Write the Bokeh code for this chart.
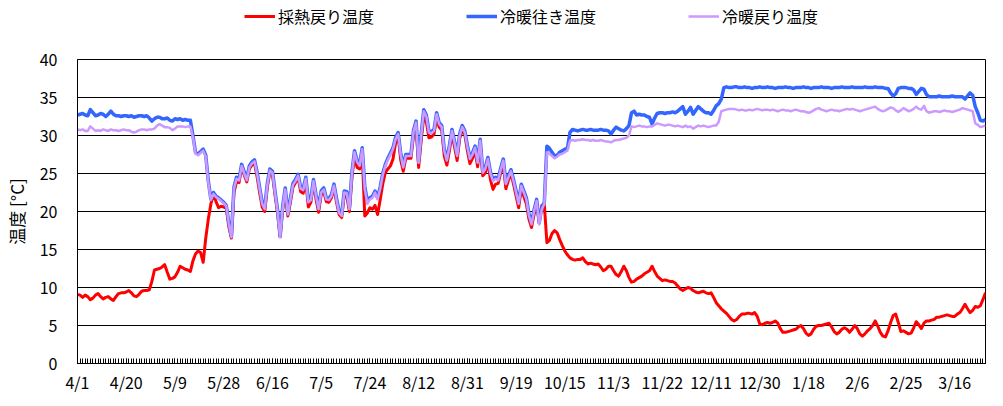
import pandas as pd
from bokeh.plotting import figure
from bokeh.layouts import column
from bokeh.models import FixedTicker, Range1d, Legend, LegendItem, ColumnDataSource
from bokeh.embed import file_html
from bokeh.resources import INLINE

# categories: daily dates 4/1 .. 3/28 with the 10/1-10/7 gap
all_days = pd.date_range("2018-04-01", "2019-03-28")
gap_start, gap_end = pd.Timestamp("2018-10-01"), pd.Timestamp("2018-10-07")
dates = [d for d in all_days if not (gap_start <= d <= gap_end)]
categories = [f"{d.month}/{d.day}" for d in dates]

series_names = ["採熱戻り温度", "冷暖往き温度", "冷暖戻り温度"]

red = [
    9.1, 9.0, 8.7, 9.0, 8.8, 8.4, 8.6, 9.0, 9.2, 8.8,
    8.5, 8.7, 8.8, 8.5, 8.3, 8.8, 9.2, 9.3, 9.3, 9.4,
    9.6, 9.3, 8.9, 8.8, 9.1, 9.5, 9.6, 9.6, 9.7, 10.8,
    12.3, 12.4, 12.5, 12.7, 13.0, 12.0, 11.1, 11.2, 11.4, 12.0,
    12.8, 12.6, 12.4, 12.3, 12.1, 13.5, 14.4, 14.8, 14.6, 13.3,
    16.5, 19.0, 21.0, 22.3, 21.3, 20.5, 20.7, 20.6, 20.4, 18.0,
    16.5, 22.5, 23.9, 23.8, 25.8, 24.8, 23.9, 25.6, 26.1, 26.4,
    24.6, 22.5, 20.6, 20.0, 23.2, 25.2, 24.9, 22.2, 19.8, 16.7,
    20.3, 22.6, 19.4, 21.2, 23.2, 23.8, 24.5, 22.6, 22.4, 24.0,
    20.6, 21.2, 23.8, 21.6, 19.9, 22.2, 22.6, 21.3, 21.2, 21.8,
    23.1, 21.2, 19.6, 19.2, 22.2, 22.0, 20.0, 24.5, 27.3, 25.8,
    25.6, 27.5, 19.4, 19.8, 20.5, 20.3, 20.8, 19.6, 21.5, 23.6,
    25.1, 25.6, 26.0, 26.9, 29.0, 30.0, 26.8, 25.3, 27.0, 27.0,
    27.0, 30.0, 31.2, 25.8, 29.4, 32.5, 31.8, 29.7, 29.8, 30.2,
    32.3, 31.1, 30.7, 27.3, 26.1, 28.0, 30.2, 28.5, 26.7, 29.6,
    30.8, 30.1, 28.0, 26.3, 27.0, 28.0, 25.9, 29.0, 24.7, 25.1,
    26.5, 24.2, 22.9, 23.6, 23.7, 25.1, 26.3, 23.0, 24.1, 25.0,
    23.6, 22.0, 20.5, 23.0, 22.0, 21.0, 19.0, 17.9, 19.6, 21.0,
    18.6, 20.8, 20.9,
    15.9, 16.2, 17.1, 17.5, 17.2, 16.3, 15.5, 14.8, 14.3, 13.9,
    13.7, 13.6, 13.7, 13.7, 13.9, 13.4, 13.1, 13.2, 13.1, 13.0,
    13.1, 12.7, 12.2, 12.4, 12.8, 12.8, 12.2, 11.7, 11.5, 12.1,
    12.8, 12.2, 11.3, 10.7, 10.8, 11.1, 11.3, 11.5, 11.8, 12.0,
    12.2, 12.8, 12.1, 11.5, 11.2, 10.9, 11.0, 10.9, 10.8, 10.8,
    10.6, 10.2, 9.8, 9.6, 9.8, 10.0, 9.9, 9.6, 9.4, 9.3,
    9.4, 9.5, 9.3, 9.2, 9.3, 8.7, 8.0, 7.6, 7.2, 6.9,
    6.6, 6.2, 5.8, 5.6, 5.8, 6.2, 6.5, 6.5, 6.6, 6.6,
    6.5, 6.7, 6.2, 5.2, 5.1, 5.3, 5.4, 5.3, 5.4, 5.6,
    5.3, 4.6, 4.1, 4.1, 4.2, 4.3, 4.4, 4.5, 4.8, 5.0,
    4.6, 4.0, 3.7, 3.9, 4.5, 4.9, 5.0, 5.0, 5.1, 5.2,
    5.3, 4.8, 4.2, 3.9, 4.1, 4.5, 4.7, 4.5, 4.1, 4.5,
    5.0, 4.6, 3.9, 3.6, 3.9, 4.3, 4.6, 5.0, 5.6, 4.9,
    4.1, 3.6, 3.5, 4.3, 5.4, 6.3, 6.5, 5.4, 4.2, 4.3,
    4.1, 3.9, 4.0, 4.7, 5.5, 5.1, 4.6, 5.3, 5.6, 5.6,
    5.7, 5.8, 6.1, 6.1, 6.2, 6.3, 6.4, 6.3, 6.2, 6.2,
    6.5, 6.7, 7.2, 7.8, 7.2, 6.7, 7.0, 7.5, 7.4, 7.6,
    8.4, 9.3,
]

blue = [
    32.7, 32.8, 32.9, 32.7, 32.6, 33.4, 33.0, 32.6, 32.7, 32.9,
    32.8, 32.5, 32.8, 33.2, 32.8, 32.6, 32.6, 32.5, 32.6, 32.6,
    32.5, 32.6, 32.4, 32.5, 32.6, 32.6, 32.5, 32.6, 32.3, 31.9,
    32.2, 32.4, 32.4, 32.2, 32.2, 32.3, 32.0, 31.9, 32.2, 32.1,
    32.2, 32.0, 32.1, 32.0, 32.0, 30.0, 27.8, 27.6, 27.9, 28.2,
    27.4, 24.0, 21.6, 22.5, 22.0, 21.8, 21.5, 21.2, 20.8, 18.5,
    16.7, 23.2, 24.5, 24.3, 26.2, 25.2, 24.3, 26.0, 26.5, 26.8,
    25.2, 23.2, 21.2, 20.5, 23.7, 25.6, 25.3, 22.7, 20.2, 16.7,
    20.7, 23.1, 19.8, 21.7, 23.7, 24.2, 24.9, 23.2, 23.0, 24.5,
    21.4, 21.7, 24.2, 22.2, 20.5, 22.7, 23.1, 21.8, 21.7, 22.2,
    23.6, 21.7, 20.0, 19.6, 22.7, 22.6, 20.5, 25.2, 28.0, 26.7,
    26.2, 28.4, 23.3, 21.3, 21.8, 22.0, 22.7, 21.8, 23.2, 25.0,
    26.2, 27.0, 27.7, 28.4, 29.7, 30.4, 27.7, 26.0, 27.5, 27.5,
    27.5, 30.7, 31.9, 26.6, 30.2, 33.4, 32.7, 30.6, 30.5, 30.8,
    33.0, 31.7, 31.3, 28.2, 26.9, 28.7, 30.8, 29.2, 27.5, 30.2,
    31.3, 30.6, 28.7, 27.1, 27.7, 28.6, 26.6, 29.5, 25.3, 25.8,
    27.1, 25.2, 24.2, 24.5, 24.3, 25.7, 26.9, 23.8, 24.7, 25.5,
    24.2, 22.7, 21.2, 23.6, 22.7, 21.8, 19.7, 18.5, 20.2, 21.6,
    18.5, 20.5, 21.2,
    28.6, 28.3, 27.8, 27.3, 27.4, 27.8, 28.0, 28.2, 28.3, 30.4,
    30.8, 30.7, 30.6, 30.7, 30.8, 30.7, 30.7, 30.8, 30.7, 30.7,
    30.7, 30.8, 30.7, 30.7, 30.6, 30.2, 30.7, 31.1, 30.9, 30.7,
    30.6, 30.9, 31.3, 33.0, 33.2, 32.7, 32.8, 32.7, 32.7, 32.5,
    32.4, 31.5, 32.3, 32.9, 33.0, 33.0, 32.9, 33.0, 33.0, 33.1,
    33.0, 33.2, 33.5, 33.8, 32.8, 33.2, 33.7, 32.8, 33.3, 33.8,
    33.5, 33.2, 33.0, 33.0, 32.8, 33.3, 33.9, 34.2, 34.8, 36.3,
    36.4, 36.3, 36.3, 36.4, 36.4, 36.3, 36.3, 36.4, 36.3, 36.3,
    36.2, 36.3, 36.3, 36.4, 36.3, 36.3, 36.4, 36.3, 36.3, 36.2,
    36.3, 36.3, 36.3, 36.4, 36.3, 36.3, 36.2, 36.3, 36.3, 36.3,
    36.4, 36.3, 36.3, 36.2, 36.3, 36.3, 36.3, 36.4, 36.3, 36.3,
    36.3, 36.2, 36.3, 36.3, 36.3, 36.4, 36.3, 36.3, 36.3, 36.4,
    36.3, 36.3, 36.3, 36.3, 36.4, 36.3, 36.3, 36.3, 36.4, 36.3,
    36.3, 36.3, 36.2, 36.2, 35.6, 35.2, 35.5, 36.2, 36.3, 36.3,
    36.3, 36.2, 36.2, 36.0, 35.4, 35.8, 36.2, 36.1, 35.4, 35.1,
    35.1, 35.1, 35.1, 35.2, 35.1, 35.1, 35.1, 35.1, 35.2, 35.1,
    35.1, 35.1, 35.1, 34.8, 35.2, 35.6, 35.3, 33.8, 33.0, 32.0,
    31.9, 32.1,
]

purple = [
    30.8, 30.7, 30.8, 30.6, 30.6, 31.2, 30.9, 30.6, 30.7, 30.6,
    30.8, 30.7, 30.6, 30.8, 30.7, 30.7, 30.6, 30.7, 30.8, 30.7,
    30.7, 30.5, 30.4, 30.5, 30.7, 30.8, 30.8, 30.7, 30.8, 30.8,
    30.9, 31.3, 31.5, 31.3, 31.1, 31.1, 31.0, 30.7, 30.9, 31.2,
    31.2, 31.2, 31.1, 31.2, 31.2, 29.8, 27.6, 27.4, 27.7, 28.0,
    27.2, 23.8, 21.5, 22.3, 21.9, 21.7, 21.4, 21.1, 20.7, 18.4,
    16.6, 23.0, 24.3, 24.1, 26.0, 25.0, 24.1, 25.8, 26.3, 26.6,
    25.0, 23.0, 21.0, 20.3, 23.5, 25.4, 25.1, 22.5, 20.0, 16.6,
    20.5, 22.9, 19.6, 21.5, 23.5, 24.0, 24.7, 23.0, 22.8, 24.3,
    21.2, 21.5, 24.0, 22.0, 20.3, 22.5, 22.9, 21.6, 21.5, 22.0,
    23.4, 21.5, 19.8, 19.4, 22.5, 22.4, 20.3, 25.0, 27.8, 26.5,
    26.0, 28.2, 23.0, 21.0, 21.6, 21.8, 22.5, 21.6, 23.0, 24.8,
    26.0, 26.8, 27.5, 28.2, 29.5, 30.2, 27.5, 25.8, 27.3, 27.3,
    27.3, 30.5, 31.7, 26.4, 30.0, 33.2, 32.5, 30.4, 30.3, 30.6,
    32.8, 31.5, 31.1, 28.0, 26.7, 28.5, 30.6, 29.0, 27.3, 30.0,
    31.1, 30.4, 28.5, 26.9, 27.5, 28.4, 26.4, 29.3, 25.1, 25.6,
    26.9, 25.0, 24.0, 24.3, 24.1, 25.5, 26.7, 23.6, 24.5, 25.3,
    24.0, 22.5, 21.0, 23.4, 22.5, 21.6, 19.5, 18.3, 20.0, 21.4,
    18.3, 20.3, 21.0,
    27.8, 27.6, 27.3, 27.0, 27.2, 27.5, 27.6, 27.8, 28.0, 29.3,
    29.4, 29.3, 29.4, 29.4, 29.5, 29.4, 29.4, 29.3, 29.4, 29.3,
    29.3, 29.4, 29.3, 29.2, 29.2, 29.1, 29.3, 29.4, 29.4, 29.5,
    29.6, 29.7, 30.0, 31.2, 31.1, 31.2, 31.3, 31.2, 31.2, 31.1,
    31.2, 31.2, 31.4, 31.6, 31.5, 31.4, 31.3, 31.4, 31.4, 31.3,
    31.2, 31.3, 31.2, 31.1, 31.3, 31.1, 31.2, 30.9, 31.1, 31.3,
    31.2, 31.3, 31.2, 31.1, 31.2, 31.3, 31.3, 31.8, 33.2, 33.3,
    33.4, 33.5, 33.5, 33.5, 33.4, 33.3, 33.4, 33.3, 33.3, 33.4,
    33.3, 33.4, 33.5, 33.4, 33.3, 33.4, 33.4, 33.3, 33.4, 33.3,
    33.2, 33.3, 33.4, 33.3, 33.3, 33.2, 33.3, 33.4, 33.3, 33.2,
    33.2, 33.1, 33.0, 33.1, 33.3, 33.5, 33.6, 33.4, 33.3, 33.2,
    33.3, 33.4, 33.3, 33.3, 33.2, 33.3, 33.4, 33.5, 33.4, 33.5,
    33.4, 33.3, 33.2, 33.3, 33.4, 33.5, 33.6, 33.7, 33.8, 33.5,
    33.3, 33.2, 33.3, 33.5, 33.7, 33.6, 33.3, 33.1, 33.3, 33.6,
    33.4, 33.2, 33.3, 33.5, 33.8, 33.5, 33.4, 33.9, 33.2, 33.0,
    33.1, 33.2, 33.2, 33.1, 33.2, 33.3, 33.2, 33.2, 33.1, 33.2,
    33.3, 33.4, 33.6, 33.5, 33.4, 33.3, 33.2, 31.6, 31.4, 31.1,
    31.2, 31.3,
]

y_ticks = [0, 5, 10, 15, 20, 25, 30, 35, 40]
label_step = 19

n = min(len(categories), len(red), len(blue), len(purple))
x = list(range(n))
src = ColumnDataSource(dict(x=x, red=red[:n], blue=blue[:n], purple=purple[:n]))

FONT = "Noto Sans CJK JP"
cols = ["red", "blue", "purple"]
colors = ["#FF0000", "#3366FF", "#CC99FF"]
widths = [3, 3.5, 2.5]

p = figure(width=987, height=356, output_backend="svg", toolbar_location=None,
           x_range=Range1d(0, n - 1), y_range=Range1d(0, 40),
           min_border_left=67, min_border_right=2, min_border_top=19, min_border_bottom=33)
p.background_fill_color = "white"
p.border_fill_color = "white"
p.outline_line_color = "black"
p.outline_line_width = 1

for col, c, w in zip(cols, colors, widths):
    p.line("x", col, source=src, line_color=c, line_width=w, line_join="round")

# axes
tick_idx = list(range(0, n, label_step))
p.xaxis.ticker = FixedTicker(ticks=tick_idx, minor_ticks=x)
p.xaxis.major_label_overrides = {i: categories[i] for i in tick_idx}
p.xaxis.major_tick_in = 5
p.xaxis.major_tick_out = 0
p.xaxis.minor_tick_in = 5
p.xaxis.minor_tick_out = 0
p.xaxis.major_tick_line_color = "black"
p.xaxis.minor_tick_line_color = "black"
p.xaxis.axis_line_color = "black"
p.xaxis.major_label_standoff = 6
p.xaxis.major_label_text_font = FONT
p.xaxis.major_label_text_font_size = "16px"
p.xaxis.major_label_text_color = "black"

p.yaxis.ticker = FixedTicker(ticks=y_ticks)
p.yaxis.major_tick_in = 0
p.yaxis.major_tick_out = 0
p.yaxis.minor_tick_line_color = None
p.yaxis.axis_line_color = "black"
p.yaxis.major_label_standoff = 20
p.yaxis.major_label_text_font = FONT
p.yaxis.major_label_text_font_size = "16px"
p.yaxis.major_label_text_color = "black"
p.yaxis.axis_label = "温度 [°C]"
p.yaxis.axis_label_text_font = FONT
p.yaxis.axis_label_text_font_size = "17px"
p.yaxis.axis_label_text_font_style = "normal"
p.yaxis.axis_label_text_color = "black"
p.yaxis.axis_label_standoff = 8

p.xgrid.visible = False
p.ygrid.ticker = FixedTicker(ticks=y_ticks)
p.ygrid.grid_line_color = "black"
p.ygrid.grid_line_width = 1

# legend strip above the chart (its lines lie outside its visible range)
lg = figure(width=987, height=40, output_backend="svg", toolbar_location=None,
            x_axis_type=None, y_axis_type=None,
            x_range=Range1d(0, n - 1), y_range=Range1d(100, 101),
            min_border_left=0, min_border_right=0, min_border_top=0, min_border_bottom=0)
lg.grid.visible = False
lg.outline_line_color = None
lg.background_fill_color = "white"
lg.border_fill_color = "white"
items = []
for name, col, c, w in zip(series_names, cols, colors, widths):
    r = lg.line("x", col, source=src, line_color=c, line_width=w)
    items.append(LegendItem(label=name, renderers=[r]))
legend = Legend(items=items, location=(167, 12), orientation="horizontal")
legend.border_line_color = None
legend.background_fill_alpha = 0
legend.padding = 0
legend.margin = 0
legend.spacing = 92
legend.glyph_width = 31
legend.glyph_height = 16
legend.label_standoff = 3
legend.label_text_font = FONT
legend.label_text_font_size = "16px"
legend.label_text_color = "black"
lg.add_layout(legend, "center")

layout = column(lg, p, spacing=0)
open("out.html", "w").write(file_html(layout, INLINE))
